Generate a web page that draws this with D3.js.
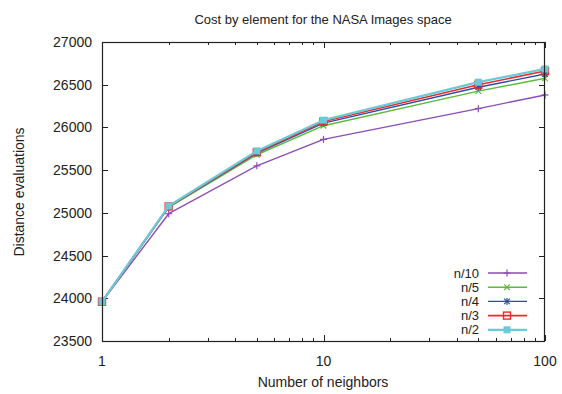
<!DOCTYPE html>
<html>
<head>
<meta charset="utf-8">
<script src="https://cdn.jsdelivr.net/npm/d3@7"></script>
<style>
  html, body { margin: 0; padding: 0; background: #fff; }
  svg text { font-family: "Liberation Sans", Arial, Helvetica, sans-serif; fill: #222; }
</style>
</head>
<body>
<svg id="chart" width="562" height="394"></svg>
<script>
// Neighbors (log axis) and the cost series for each sample fraction
const neighbors = [1, 2, 5, 10, 50, 100];
const seriesNames = ["n/10", "n/5", "n/4", "n/3", "n/2"];
const n10 = [23960, 24990, 25550, 25860, 26220, 26380];
const n5  = [23960, 25065, 25680, 26020, 26425, 26575];
const n4  = [23960, 25070, 25700, 26050, 26470, 26625];
const n3  = [23960, 25075, 25710, 26070, 26500, 26660];
const n2  = [23960, 25080, 25725, 26085, 26530, 26685];
const yTicks = [23500, 24000, 24500, 25000, 25500, 26000, 26500, 27000];
const xTicks = [1, 10, 100];

const colors = ["#8c4db4", "#5cba3c", "#2c4ea6", "#ee2b2b", "#6ccad8"];
const symbols = ["plus", "cross", "star", "square", "fsquare"];
const widths = [1.4, 1.4, 1.4, 1.6, 2.2];
const seriesValues = [n10, n5, n4, n3, n2];

const svg = d3.select("#chart");
const L = 102, R = 545, T = 42, B = 341;

const x = d3.scaleLog().domain([1, 100]).range([L, R]);
const y = d3.scaleLinear().domain([23500, 27000]).range([B, T]);

// Title and axis labels
svg.append("text").attr("x", 323).attr("y", 24).attr("text-anchor", "middle")
  .style("font-size", "13px").text("Cost by element for the NASA Images space");
svg.append("text").attr("x", 323).attr("y", 387).attr("text-anchor", "middle")
  .style("font-size", "14px").text("Number of neighbors");
svg.append("text").attr("transform", "translate(24,192) rotate(-90)").attr("text-anchor", "middle")
  .style("font-size", "14px").text("Distance evaluations");

// Ticks (inward, mirrored on opposite sides)
const tickG = svg.append("g").attr("stroke", "#222").attr("stroke-width", 1);
yTicks.forEach(v => {
  const yy = Math.round(y(v)) + 0.5;
  tickG.append("line").attr("x1", L).attr("x2", L + 6).attr("y1", yy).attr("y2", yy);
  tickG.append("line").attr("x1", R - 6).attr("x2", R).attr("y1", yy).attr("y2", yy);
  svg.append("text").attr("x", L - 10).attr("y", y(v) + 5).attr("text-anchor", "end")
    .style("font-size", "14px").text(v);
});
const minor = [];
[1, 10].forEach(d => { for (let k = 2; k <= 9; k++) minor.push(d * k); });
minor.forEach(v => {
  const xx = Math.round(x(v)) + 0.5;
  tickG.append("line").attr("x1", xx).attr("x2", xx).attr("y1", B).attr("y2", B - 3);
  tickG.append("line").attr("x1", xx).attr("x2", xx).attr("y1", T).attr("y2", T + 3);
});
xTicks.forEach(v => {
  const xx = Math.round(x(v)) + 0.5;
  tickG.append("line").attr("x1", xx).attr("x2", xx).attr("y1", B).attr("y2", B - 6);
  tickG.append("line").attr("x1", xx).attr("x2", xx).attr("y1", T).attr("y2", T + 6);
  svg.append("text").attr("x", x(v)).attr("y", 366).attr("text-anchor", "middle")
    .style("font-size", "14px").text(v);
});

// Point symbol drawing
function drawSymbol(g, type, cx, cy, color) {
  const s = 3.5;
  if (type === "plus" || type === "star") {
    g.append("line").attr("x1", cx - s).attr("x2", cx + s).attr("y1", cy).attr("y2", cy).attr("stroke", color).attr("stroke-width", 1.2);
    g.append("line").attr("x1", cx).attr("x2", cx).attr("y1", cy - s).attr("y2", cy + s).attr("stroke", color).attr("stroke-width", 1.2);
  }
  if (type === "cross" || type === "star") {
    const c = s * 0.8;
    g.append("line").attr("x1", cx - c).attr("x2", cx + c).attr("y1", cy - c).attr("y2", cy + c).attr("stroke", color).attr("stroke-width", 1.2);
    g.append("line").attr("x1", cx - c).attr("x2", cx + c).attr("y1", cy + c).attr("y2", cy - c).attr("stroke", color).attr("stroke-width", 1.2);
  }
  if (type === "square") {
    g.append("rect").attr("x", cx - 3.5).attr("y", cy - 3.5).attr("width", 7).attr("height", 7)
      .attr("fill", "none").attr("stroke", color).attr("stroke-width", 1.4);
  }
  if (type === "fsquare") {
    g.append("rect").attr("x", cx - 3.5).attr("y", cy - 3.5).attr("width", 7).attr("height", 7)
      .attr("fill", color).attr("stroke", "none");
  }
}

// Series lines with point markers
const line = d3.line().x(d => x(d[0])).y(d => y(d[1]));
seriesValues.forEach((vals, i) => {
  const g = svg.append("g");
  const pts = neighbors.map((n, j) => [n, vals[j]]);
  g.append("path").attr("d", line(pts)).attr("fill", "none")
    .attr("stroke", colors[i]).attr("stroke-width", widths[i]).attr("stroke-linejoin", "round");
  pts.forEach(p => drawSymbol(g, symbols[i], x(p[0]), y(p[1]), colors[i]));
});

// Legend
const legendY0 = 273, legendStep = 14.2;
seriesNames.forEach((name, i) => {
  const ly = legendY0 + i * legendStep;
  const g = svg.append("g");
  g.append("text").attr("x", 479).attr("y", ly + 4.5).attr("text-anchor", "end")
    .style("font-size", "13px").text(name);
  g.append("line").attr("x1", 488).attr("x2", 527).attr("y1", ly).attr("y2", ly)
    .attr("stroke", colors[i]).attr("stroke-width", widths[i]);
  drawSymbol(g, symbols[i], 507, ly, colors[i]);
});

// Frame
svg.append("rect").attr("x", L + 0.5).attr("y", T + 0.5).attr("width", R - L - 1).attr("height", B - T)
  .attr("fill", "none").attr("stroke", "#222").attr("stroke-width", 1.2);
</script>
</body>
</html>
